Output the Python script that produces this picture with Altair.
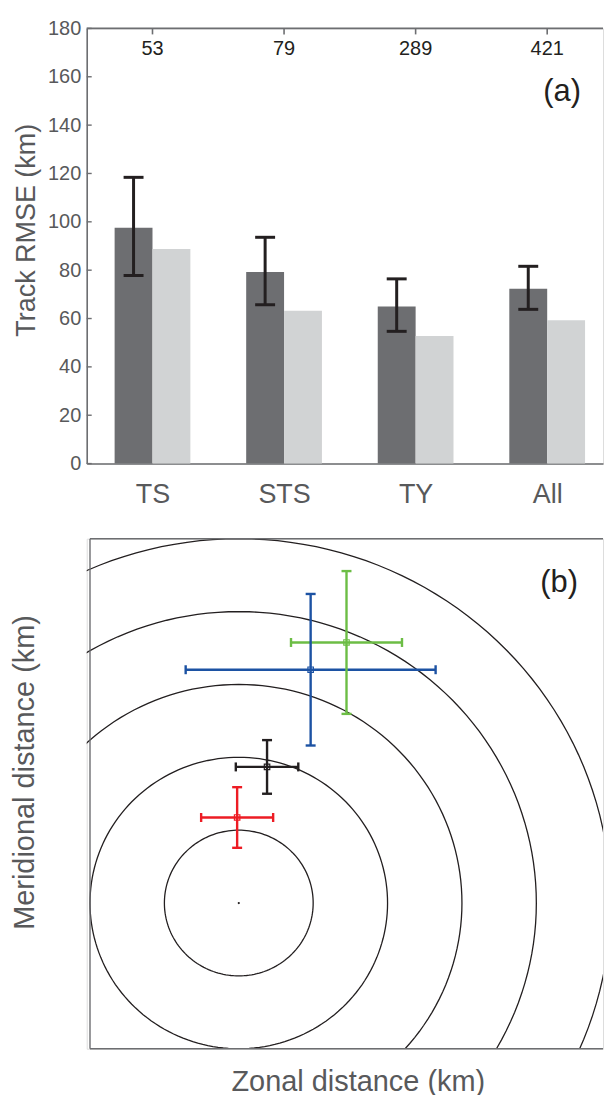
import altair as alt
import pandas as pd
import numpy as np
import json

# ---------------- data : panel (a) ----------------
categories = ["TS", "STS", "TY", "All"]
sample_counts = ["53", "79", "289", "421"]
series_names = ["Model", "Reference"]
dark_values = [97.5, 79.2, 65.0, 72.3]
light_values = [88.8, 63.2, 52.8, 59.3]
err_low = [77.8, 65.7, 54.7, 63.8]
err_high = [118.4, 93.6, 76.4, 81.6]
y_ticks = [0, 20, 40, 60, 80, 100, 120, 140, 160, 180]

# ---------------- data : panel (b) ----------------
group_names = ["green", "blue", "black", "red"]
group_colors = ["#6cbd45", "#1c52a3", "#231f20", "#ed1c24"]
zonal_mean = [72.4, 48.3, 19.0, -1.1]
zonal_err = [37.3, 84.0, 21.0, 24.2]
merid_mean = [178.8, 160.1, 93.4, 58.7]
merid_err = [49.0, 52.0, 18.4, 20.8]
ring_radii = [50, 100, 150, 200, 250]
storm_center = [0.0, 0.0]
box_min = -100
box_max = 250

FONT = "Liberation Sans"
GRAY_TXT = "#58595b"
GRAY_LINE = "#6d6e71"
BLACK = "#231f20"

# ---------------- panel (a) ----------------
W = 518
HA = 436.6
YMAX = 180
step_px = 132.0
x0_px = 66.0
BAR_W = 38.0 / step_px          # bar width in category units
CAP_W = 20.0 / step_px          # error-bar cap width
cat_index = list(range(len(categories)))
xa_lo = -x0_px / step_px
xa_hi = (W - x0_px) / step_px
ya_px = HA / YMAX               # px per km (panel a)

bars_df = pd.DataFrame({
    "idx": cat_index * 2,
    "series": [series_names[0]] * 4 + [series_names[1]] * 4,
    "side": [-1] * 4 + [0] * 4,
    "value": dark_values + light_values,
})
err_df = pd.DataFrame({
    "idx": cat_index,
    "lo": err_low,
    "hi": err_high,
    "n": sample_counts,
})
ticks_df = pd.DataFrame({"tick": y_ticks})

xscale = alt.Scale(domain=[xa_lo, xa_hi], nice=False, zero=False)
yscale = alt.Scale(domain=[0, YMAX], nice=False)

label_expr = json.dumps(categories) + "[datum.value]"
x_axis_a = alt.Axis(orient="bottom", title=None, ticks=False, values=cat_index,
                    labelExpr=label_expr, labelFontSize=27, labelColor=GRAY_TXT,
                    labelPadding=18, domainColor=GRAY_LINE, domainWidth=1.6,
                    labelFont=FONT, grid=False, labelFlush=False)
y_axis_a = alt.Axis(values=y_ticks, title="Track RMSE (km)", ticks=False,
                    labelFontSize=20, labelColor=GRAY_TXT, labelPadding=6,
                    titleFontSize=27, titleColor=GRAY_TXT, titleFontWeight="normal",
                    titlePadding=7, titleY=202, domainColor=GRAY_LINE,
                    domainWidth=1.6, grid=False, labelFont=FONT, titleFont=FONT)

bars = alt.Chart(bars_df).transform_calculate(
    xs="datum.idx + datum.side * %f" % BAR_W,
    xe="datum.idx + (datum.side + 1) * %f" % BAR_W,
    base="0",
).mark_bar().encode(
    x=alt.X("xs:Q", scale=xscale, axis=x_axis_a),
    x2="xe:Q",
    y=alt.Y("value:Q", scale=yscale, axis=y_axis_a, stack=None),
    y2="base:Q",
    color=alt.Color("series:N", scale=alt.Scale(domain=series_names,
                                                range=["#6d6e71", "#d1d3d4"]), legend=None),
)

err_base = alt.Chart(err_df).transform_calculate(
    ex="datum.idx - %f" % (BAR_W / 2),
    cl="datum.idx - %f" % (BAR_W / 2 + CAP_W / 2),
    cr="datum.idx - %f" % (BAR_W / 2 - CAP_W / 2),
)
err_rule = err_base.mark_rule(color=BLACK, strokeWidth=3).encode(
    x=alt.X("ex:Q", scale=xscale),
    y=alt.Y("lo:Q", scale=yscale),
    y2="hi:Q",
)
err_cap_hi = err_base.mark_rule(color=BLACK, strokeWidth=3).encode(
    x=alt.X("cl:Q", scale=xscale), x2="cr:Q",
    y=alt.Y("hi:Q", scale=yscale),
)
err_cap_lo = err_base.mark_rule(color=BLACK, strokeWidth=3).encode(
    x=alt.X("cl:Q", scale=xscale), x2="cr:Q",
    y=alt.Y("lo:Q", scale=yscale),
)
# frame line on top and inward ticks
top_df = pd.DataFrame({"x0": [xa_lo], "x1": [xa_hi], "y": [YMAX]})
top_line = alt.Chart(top_df).mark_rule(color=GRAY_LINE, strokeWidth=1.6).encode(
    x=alt.X("x0:Q", scale=xscale), x2="x1:Q", y=alt.Y("y:Q", scale=yscale))
top_ticks = alt.Chart(err_df).transform_calculate(
    t0="%f" % YMAX, t1="%f" % (YMAX - 6.0 / ya_px)
).mark_rule(color=GRAY_LINE, strokeWidth=1.6).encode(
    x=alt.X("idx:Q", scale=xscale),
    y=alt.Y("t0:Q", scale=yscale), y2="t1:Q",
)
count_text = alt.Chart(err_df).transform_calculate(
    ty="%f" % (YMAX - 21.0 / ya_px)
).mark_text(fontSize=20, color=BLACK, font=FONT, baseline="middle").encode(
    x=alt.X("idx:Q", scale=xscale),
    y=alt.Y("ty:Q", scale=yscale),
    text="n:N",
)
y_inner_ticks = alt.Chart(ticks_df).transform_calculate(
    k0="%f" % xa_lo, k1="%f" % (xa_lo + 5.0 / step_px)
).mark_rule(color=GRAY_LINE, strokeWidth=1.4).encode(
    y=alt.Y("tick:Q", scale=yscale),
    x=alt.X("k0:Q", scale=xscale), x2="k1:Q",
)
label_a_df = pd.DataFrame({"t": ["(a)"], "x": [xa_lo + 477.0 / step_px], "y": [YMAX - 64.0 / ya_px]})
label_a = alt.Chart(label_a_df).mark_text(
    fontSize=31, color=BLACK, font=FONT, baseline="middle", align="center").encode(
    text="t:N", x=alt.X("x:Q", scale=xscale), y=alt.Y("y:Q", scale=yscale))

panel_a = alt.layer(
    bars, err_rule, err_cap_hi, err_cap_lo, top_line, top_ticks, count_text, y_inner_ticks, label_a
).properties(width=W, height=HA)

# ---------------- panel (b) ----------------
HB = 511.7
yb_px = HB / (box_max - box_min)
xb_px = yb_px * 1.021
x_lo = box_min - 3.3 / xb_px
x_hi = x_lo + W / xb_px
bx = alt.Scale(domain=[x_lo, x_hi], nice=False, zero=False)
by = alt.Scale(domain=[box_min, box_max], nice=False, zero=False)

ang = np.arange(0, 361, 2)
ring_rows = []
for r in ring_radii:
    for a in ang:
        ring_rows.append({"r": r, "a": int(a),
                          "x": float(r * np.cos(np.radians(a))),
                          "y": float(r * np.sin(np.radians(a)))})
rings_df = pd.DataFrame(ring_rows)

cross_df = pd.DataFrame({
    "group": group_names,
    "zx": zonal_mean, "zxe": zonal_err,
    "my": merid_mean, "mye": merid_err,
})

xb_axis = alt.Axis(title="Zonal distance (km)", domain=False, ticks=False, labels=False, grid=False,
                   titleFontSize=29, titleColor=GRAY_TXT, titleFontWeight="normal", titleFont=FONT,
                   titlePadding=19, titleX=272)
yb_axis = alt.Axis(title="Meridional distance (km)", domain=False, ticks=False, labels=False, grid=False,
                   titleFontSize=29, titleColor=GRAY_TXT, titleFontWeight="normal", titleFont=FONT,
                   titlePadding=47, titleY=234)

rings = alt.Chart(rings_df).mark_line(clip=True, color=BLACK, strokeWidth=1.3).encode(
    x=alt.X("x:Q", scale=bx, axis=xb_axis),
    y=alt.Y("y:Q", scale=by, axis=yb_axis),
    detail="r:N",
    order="a:Q",
)

frame_df = pd.DataFrame({"lo": [box_min], "hi": [box_max], "xr": [x_hi]})
frame_left = alt.Chart(frame_df).mark_rule(color=GRAY_LINE, strokeWidth=1.4).encode(
    x=alt.X("lo:Q", scale=bx), y=alt.Y("lo:Q", scale=by), y2="hi:Q")
frame_top = alt.Chart(frame_df).mark_rule(color=GRAY_LINE, strokeWidth=1.4).encode(
    y=alt.Y("hi:Q", scale=by), x=alt.X("lo:Q", scale=bx), x2="xr:Q")
frame_bot = alt.Chart(frame_df).mark_rule(color=GRAY_LINE, strokeWidth=1.4).encode(
    y=alt.Y("lo:Q", scale=by), x=alt.X("lo:Q", scale=bx), x2="xr:Q")

HCAP = 4.5 / yb_px   # half-height of caps on the horizontal bars (km)
VCAP = 5.0 / xb_px   # half-width of caps on the vertical bars (km)
color_enc = alt.Color("group:N", scale=alt.Scale(domain=group_names, range=group_colors), legend=None)
base = alt.Chart(cross_df).transform_calculate(
    xl="datum.zx - datum.zxe", xh="datum.zx + datum.zxe",
    yl="datum.my - datum.mye", yh="datum.my + datum.mye",
    hc0="datum.my - %f" % HCAP, hc1="datum.my + %f" % HCAP,
    vc0="datum.zx - %f" % VCAP, vc1="datum.zx + %f" % VCAP,
)
h_bar = base.mark_rule(strokeWidth=2.4).encode(
    x=alt.X("xl:Q", scale=bx), x2="xh:Q", y=alt.Y("my:Q", scale=by), color=color_enc)
v_bar = base.mark_rule(strokeWidth=2.4).encode(
    y=alt.Y("yl:Q", scale=by), y2="yh:Q", x=alt.X("zx:Q", scale=bx), color=color_enc)
cap_l = base.mark_rule(strokeWidth=2.4).encode(
    x=alt.X("xl:Q", scale=bx), y=alt.Y("hc0:Q", scale=by), y2="hc1:Q", color=color_enc)
cap_r = base.mark_rule(strokeWidth=2.4).encode(
    x=alt.X("xh:Q", scale=bx), y=alt.Y("hc0:Q", scale=by), y2="hc1:Q", color=color_enc)
cap_b = base.mark_rule(strokeWidth=2.4).encode(
    x=alt.X("vc0:Q", scale=bx), x2="vc1:Q", y=alt.Y("yl:Q", scale=by), color=color_enc)
cap_t = base.mark_rule(strokeWidth=2.4).encode(
    x=alt.X("vc0:Q", scale=bx), x2="vc1:Q", y=alt.Y("yh:Q", scale=by), color=color_enc)
squares = base.mark_point(shape="square", filled=False, size=30, strokeWidth=1.2, opacity=1).encode(
    x=alt.X("zx:Q", scale=bx), y=alt.Y("my:Q", scale=by), color=color_enc)
center_dot = alt.Chart(pd.DataFrame({"x": [storm_center[0]], "y": [storm_center[1]]})).mark_circle(
    size=5, color=BLACK, opacity=1).encode(
    x=alt.X("x:Q", scale=bx), y=alt.Y("y:Q", scale=by))
label_b_df = pd.DataFrame({"t": ["(b)"], "x": [x_lo + 474.0 / xb_px], "y": [box_max - 44.0 / yb_px]})
label_b = alt.Chart(label_b_df).mark_text(
    fontSize=31, color=BLACK, font=FONT, baseline="middle", align="center").encode(
    text="t:N", x=alt.X("x:Q", scale=bx), y=alt.Y("y:Q", scale=by))

panel_b = alt.layer(
    rings, frame_left, frame_top, frame_bot,
    h_bar, v_bar, cap_l, cap_r, cap_b, cap_t, squares, center_dot, label_b
).properties(width=W, height=HB)

chart = alt.vconcat(panel_a, panel_b, spacing=28).resolve_scale(
    color="independent"
).properties(
    padding={"left": 10, "top": 15.7, "right": 0, "bottom": 0}
).configure_view(stroke=None).configure(font=FONT)

chart.save("out.html", embed_options={"renderer": "svg", "actions": False})
